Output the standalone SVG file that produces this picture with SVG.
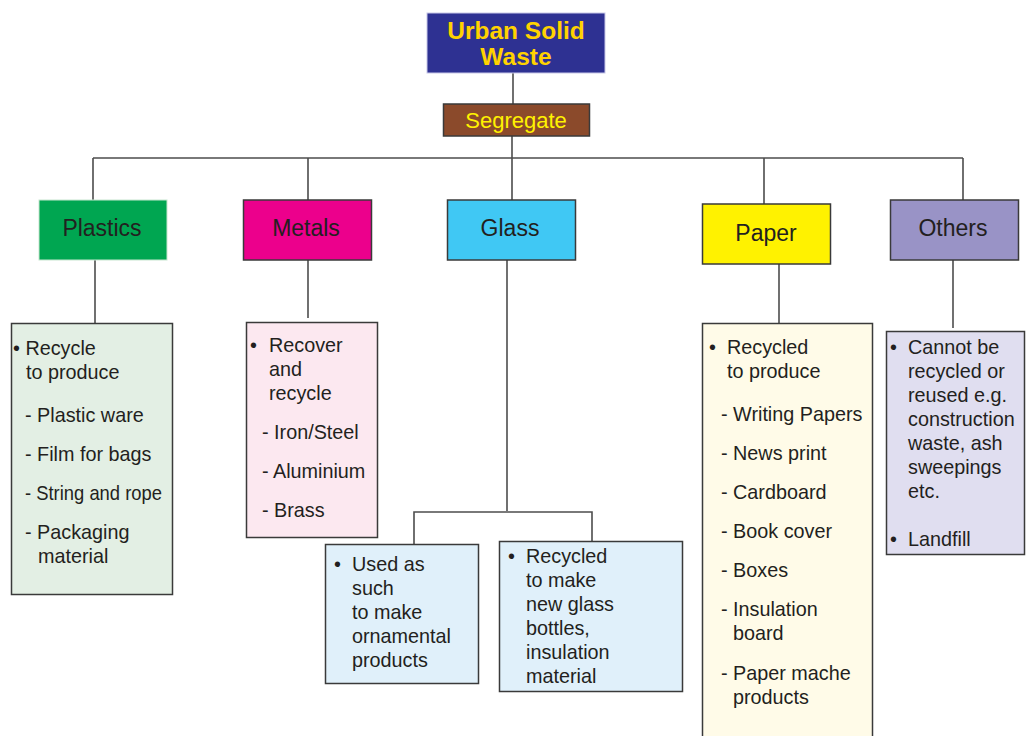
<svg xmlns="http://www.w3.org/2000/svg" width="1026" height="736" viewBox="0 0 1026 736">
<style>
.conn{stroke:#4d4d4d;stroke-width:1.6;fill:none}
.box{stroke:#3a3a3a;stroke-width:1.5}
.cat{font-family:"Liberation Sans",Arial,sans-serif;font-size:23px;fill:#231f20;text-anchor:middle}
.t{font-family:"Liberation Sans",Arial,sans-serif;font-size:19.8px;fill:#231f20}
.title{font-family:"Liberation Sans",Arial,sans-serif;font-size:24.5px;font-weight:bold;fill:#ffd200;text-anchor:middle}
</style>
<rect width="1026" height="736" fill="#ffffff"/>
<g id="connectors">
<path class="conn" d="M513 73V104"/>
<path class="conn" d="M512 136V158"/>
<path class="conn" d="M93 158H963"/>
<path class="conn" d="M93 158V200M308 158V200M512 158V200M764 158V205M963 158V200"/>
<path class="conn" d="M95 260V323"/>
<path class="conn" d="M308 256V318"/>
<path class="conn" d="M507 258V511"/>
<path class="conn" d="M414 544V512H592V541"/>
<path class="conn" d="M779 260V323"/>
<path class="conn" d="M953 260V328"/>
</g>
<g id="urban">
<rect x="427" y="13" width="178" height="60" fill="#2e3192" stroke="#c8c8e8" stroke-width="1"/>
<text class="title" x="516" y="39">Urban Solid</text>
<text class="title" x="516" y="64.5">Waste</text>
</g>
<g id="segregate">
<rect class="box" x="443.5" y="104" width="146" height="32" fill="#8b4a2b"/>
<text x="516" y="128" font-family="'Liberation Sans',Arial,sans-serif" font-size="22" fill="#fff200" text-anchor="middle">Segregate</text>
</g>
<g id="plastics">
<rect x="39" y="200" width="128" height="60" fill="#00a651" stroke="#c8e6d0" stroke-width="1"/>
<text class="cat" x="102" y="236">Plastics</text>
</g>
<g id="metals">
<rect class="box" x="243.5" y="200" width="128" height="60" fill="#ec008c"/>
<text class="cat" x="306" y="236">Metals</text>
</g>
<g id="glass">
<rect class="box" x="447.5" y="200" width="128" height="60" fill="#40c8f4"/>
<text class="cat" x="510" y="236">Glass</text>
</g>
<g id="paper">
<rect class="box" x="702.5" y="204" width="128" height="60" fill="#fff200"/>
<text class="cat" x="766" y="241">Paper</text>
</g>
<g id="others">
<rect class="box" x="890.5" y="200" width="128" height="60" fill="#9993c6"/>
<text class="cat" x="953" y="236">Others</text>
</g>
<g id="plastics-detail">
<rect class="box" x="11.5" y="323.5" width="161" height="271" fill="#e3efe4"/>
<text class="t" x="13" y="355">• Recycle</text>
<text class="t" x="26" y="379">to produce</text>
<text class="t" x="25" y="422">- Plastic ware</text>
<text class="t" x="25" y="461">- Film for bags</text>
<text class="t" x="25" y="500" textLength="137" lengthAdjust="spacingAndGlyphs">- String and rope</text>
<text class="t" x="25" y="539">- Packaging</text>
<text class="t" x="38" y="563">material</text>
</g>
<g id="metals-detail">
<rect class="box" x="246.5" y="322.5" width="131" height="215" fill="#fce8f0"/>
<text class="t" x="250" y="352">•</text>
<text class="t" x="269" y="352">Recover</text>
<text class="t" x="269" y="376">and</text>
<text class="t" x="269" y="400">recycle</text>
<text class="t" x="262" y="439">- Iron/Steel</text>
<text class="t" x="262" y="478">- Aluminium</text>
<text class="t" x="262" y="517">- Brass</text>
</g>
<g id="glass-used">
<rect class="box" x="325.5" y="544.5" width="153" height="139" fill="#e0f0fa"/>
<text class="t" x="334" y="571">•</text>
<text class="t" x="352" y="571">Used as</text>
<text class="t" x="352" y="595">such</text>
<text class="t" x="352" y="619">to make</text>
<text class="t" x="352" y="643">ornamental</text>
<text class="t" x="352" y="667">products</text>
</g>
<g id="glass-recycled">
<rect class="box" x="499.5" y="541.5" width="183" height="150" fill="#e0f0fa"/>
<text class="t" x="508" y="563">•</text>
<text class="t" x="526" y="563">Recycled</text>
<text class="t" x="526" y="587">to make</text>
<text class="t" x="526" y="611">new glass</text>
<text class="t" x="526" y="635">bottles,</text>
<text class="t" x="526" y="659">insulation</text>
<text class="t" x="526" y="683">material</text>
</g>
<g id="paper-detail">
<rect class="box" x="702.5" y="323.5" width="170" height="420" fill="#fffbe8"/>
<text class="t" x="709" y="354">•</text>
<text class="t" x="727" y="354">Recycled</text>
<text class="t" x="727" y="378">to produce</text>
<text class="t" x="721" y="421">- Writing Papers</text>
<text class="t" x="721" y="460">- News print</text>
<text class="t" x="721" y="499">- Cardboard</text>
<text class="t" x="721" y="538">- Book cover</text>
<text class="t" x="721" y="577">- Boxes</text>
<text class="t" x="721" y="616">- Insulation</text>
<text class="t" x="733" y="640">board</text>
<text class="t" x="721" y="680">- Paper mache</text>
<text class="t" x="733" y="704">products</text>
</g>
<g id="others-detail">
<rect class="box" x="886.5" y="331.5" width="138" height="223" fill="#e0def0"/>
<text class="t" x="890" y="354">•</text>
<text class="t" x="908" y="354">Cannot be</text>
<text class="t" x="908" y="378">recycled or</text>
<text class="t" x="908" y="402">reused e.g.</text>
<text class="t" x="908" y="426">construction</text>
<text class="t" x="908" y="450">waste, ash</text>
<text class="t" x="908" y="474">sweepings</text>
<text class="t" x="908" y="498">etc.</text>
<text class="t" x="890" y="546">•</text>
<text class="t" x="908" y="546">Landfill</text>
</g>
</svg>
